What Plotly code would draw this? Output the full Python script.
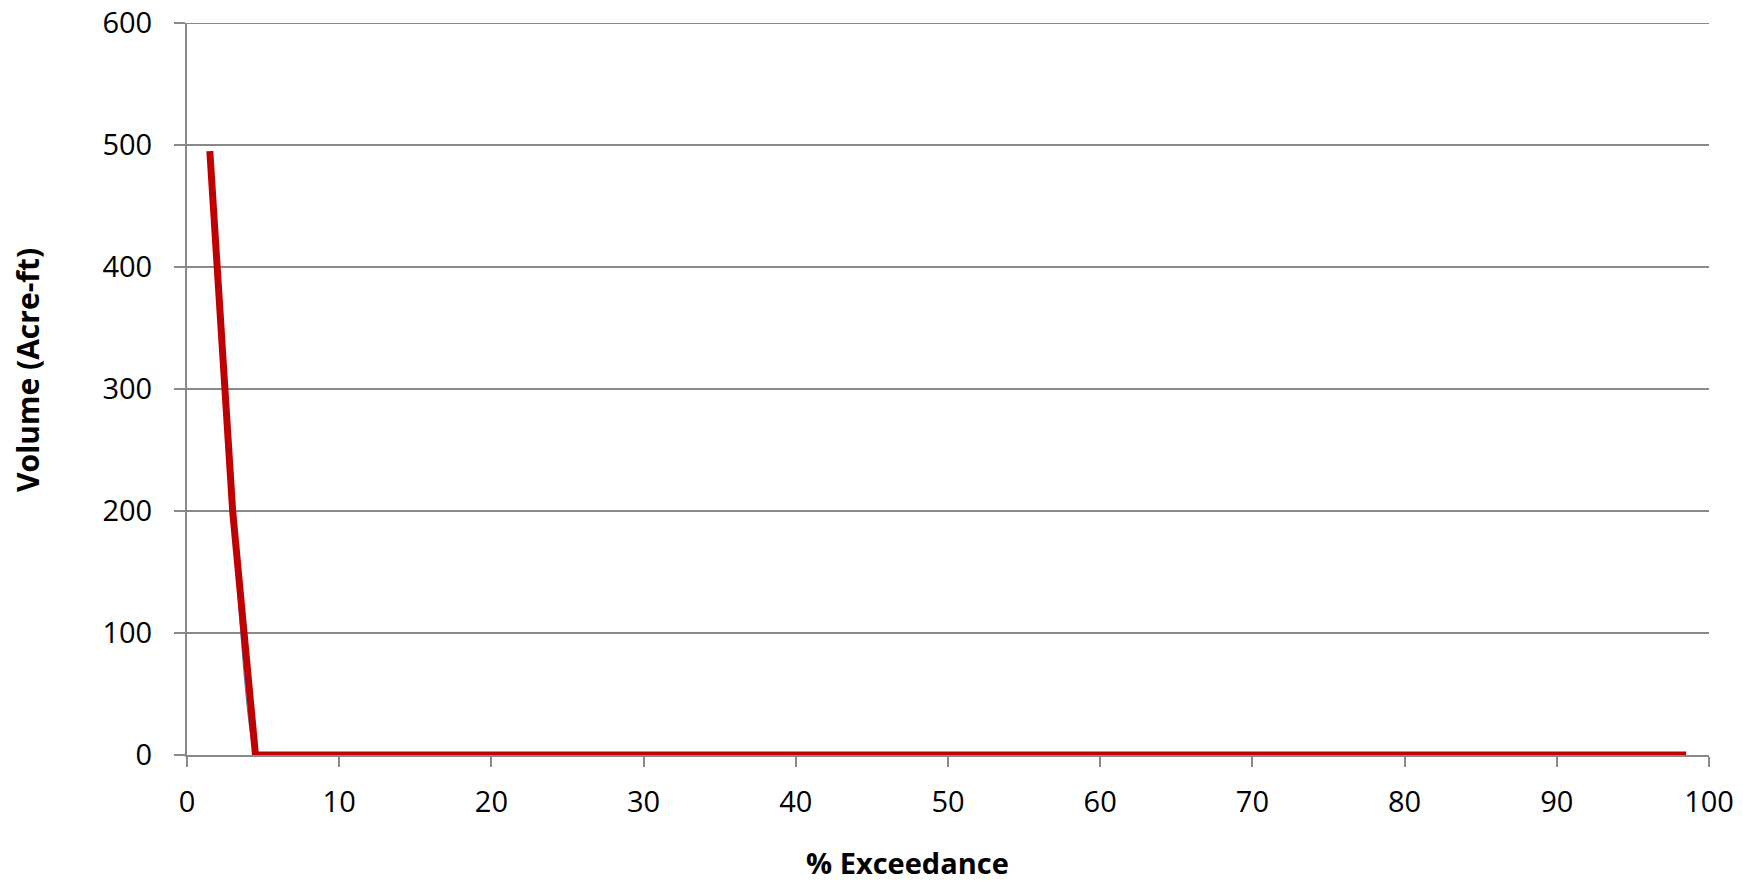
import plotly.graph_objects as go

# % exceedance vs volume
exceedance = [1.5, 3.0, 4.5, 98.5]
volume = [495, 200, 0, 0]

x_ticks = [0, 10, 20, 30, 40, 50, 60, 70, 80, 90, 100]
y_ticks = [0, 100, 200, 300, 400, 500, 600]

font_name = "Open Sans"
grid_col = "#898989"

fig = go.Figure()
# thin smoothed blue series sitting under the red one
fig.add_trace(go.Scatter(x=exceedance, y=volume, mode="lines",
                         line=dict(color="#4F81BD", width=1.2, shape="spline", smoothing=0.15),
                         showlegend=False, hoverinfo="skip"))
fig.add_trace(go.Scatter(x=exceedance, y=volume, mode="lines",
                         line=dict(color="#C00000", width=7),
                         showlegend=False))

fig.update_layout(
    width=1743, height=882,
    margin=dict(l=187, r=34, t=23, b=127),
    paper_bgcolor="white", plot_bgcolor="white",
    font=dict(family=font_name, size=29, color="black"),
    xaxis=dict(range=[0, 100], tickvals=x_ticks, showgrid=False, zeroline=False,
               showline=True, linecolor=grid_col, linewidth=2, automargin=False,
               ticks="outside", ticklen=10, tickwidth=2, tickcolor=grid_col,
               ticklabelstandoff=10, ticklabeloverflow="allow"),
    yaxis=dict(range=[0, 600], tickvals=y_ticks, showgrid=True, gridcolor=grid_col,
               gridwidth=2, zeroline=False, showline=True, linecolor=grid_col,
               linewidth=2, automargin=False, ticks="outside", ticklen=11, tickwidth=2,
               tickcolor=grid_col, ticklabelstandoff=16, ticklabeloverflow="allow"),
    shapes=[dict(type="line", xref="paper", yref="y", x0=0, x1=1,
                 y0=y_ticks[-1], y1=y_ticks[-1], layer="below",
                 line=dict(color=grid_col, width=2))],
    annotations=[
        dict(text="<b>% Exceedance</b>", xref="paper", yref="paper",
             x=0.4737, y=-0.1462, xanchor="center", yanchor="middle",
             showarrow=False, font=dict(size=29)),
        dict(text="<b>Volume (Acre-ft)</b>", xref="paper", yref="paper",
             x=-0.1045, y=0.526, xanchor="center", yanchor="middle",
             textangle=-90, showarrow=False, font=dict(size=30)),
    ],
)

# drop the default 8px page margin so the figure fills the window exactly
fig.write_html("out.html", config={"displayModeBar": False},
               post_script="document.body.style.margin='0';")
